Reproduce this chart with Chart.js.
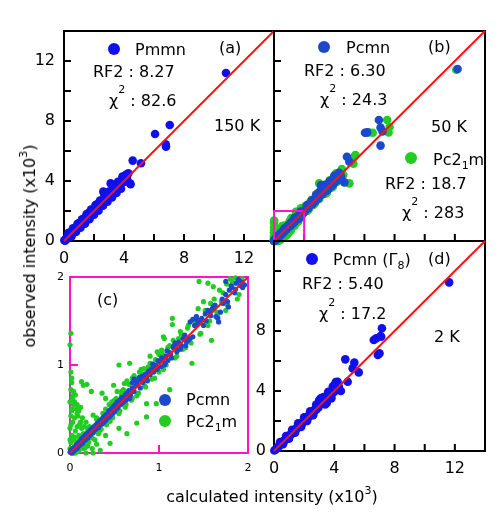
<!DOCTYPE html>
<html>
<head>
<meta charset="utf-8">
<title>Observed vs calculated intensity</title>
<script src="https://cdn.jsdelivr.net/npm/chart.js"></script>
<style>
  body { margin: 0; background: #fff; }
  #wrap { position: relative; width: 503px; height: 521px; font-family: "DejaVu Sans", sans-serif; }
  #wrap canvas { position: absolute; left: 0; top: 0; }
  .axis-title { position: absolute; font-size: 16px; line-height: 20px; color: #000; white-space: nowrap; }
  .axis-title sup { font-size: 11px; vertical-align: top; position: relative; top: -6px; }
  #xTitle { left: 272px; top: 487px; transform: translateX(-50%); }
  #yTitle { left: 30px; top: 246px; transform: translate(-50%, -50%) rotate(-90deg); }
</style>
</head>
<body>
<div id="wrap">
  <canvas id="panelA" width="503" height="521"></canvas>
  <canvas id="panelB" width="503" height="521"></canvas>
  <canvas id="panelC" width="503" height="521"></canvas>
  <canvas id="panelD" width="503" height="521"></canvas>
  <div class="axis-title" id="xTitle">calculated intensity (x10<sup>3</sup>)</div>
  <div class="axis-title" id="yTitle">observed intensity (x10<sup>3</sup>)</div>
</div>

<script>
  // axis ranges and tick labels
  const fullTickLabels = [0, 4, 8, 12];
  const panelDYLabels = [0, 4, 8];
  const zoomTickLabels = [0, 1, 2];
  const minorTicks = [2, 4, 6, 8, 10, 12];
  const zoomTicks = [1];
  const diagX = [0, 14];
  const diagY = [0, 14];
  const zoomBoxX = [0, 2, 2, 0, 0];
  const zoomBoxY = [0, 0, 2, 2, 0];

  // (a) Pmmn, 150 K  (x = calculated, y = observed, x10^3)
  const pmmnCalc = [0.02,0.08,0.15,0.22,0.3,0.38,0.45,0.52,0.6,0.68,0.75,0.82,0.9,0.98,1.05,1.12,1.2,1.28,1.35,1.42,
    1.5,1.58,1.65,1.72,1.8,1.88,1.95,2.02,2.1,2.18,2.25,2.32,2.4,2.48,2.55,2.62,2.7,2.78,2.85,2.92,
    3.0,3.08,3.11,3.15,3.22,3.3,3.38,3.45,3.52,3.6,3.68,3.75,3.82,3.9,3.96,4.05,4.12,4.2,4.29,4.4,
    4.44,4.58,5.13,6.07,6.8,6.78,7.05,10.8, 3.3,3.6,3.9,4.1,0.4,1.0,1.6,2.2,2.8,
    0.3,0.6,0.9,1.2,1.5,1.8,2.1,2.4,2.7,3.0,3.3,3.6,3.9,4.2, 0.5,0.8,1.1,1.4,1.7,2.0,2.3,2.6,2.9,3.2,3.5,3.8];
  const pmmnObs = [0.05,0.02,0.2,0.15,0.38,0.3,0.55,0.45,0.68,0.6,0.85,0.75,0.98,0.9,1.15,1.02,1.32,1.2,1.5,1.35,
    1.62,1.5,1.82,1.65,1.95,1.8,2.1,1.95,2.2,2.1,2.4,2.22,2.55,2.4,2.7,3.29,2.8,2.65,3.0,2.82,
    3.2,2.95,3.84,3.0,3.4,3.2,3.55,3.35,3.7,3.5,3.8,3.62,3.85,4.1,4.18,3.95,4.35,4.2,4.51,3.84,
    3.78,5.36,5.18,7.13,6.29,6.45,7.73,11.2, 3.6,3.9,4.3,4.4,0.55,1.2,1.85,2.45,3.05,
    0.55,0.85,1.15,1.45,1.78,2.1,2.4,2.7,3.05,3.3,3.65,3.95,4.2,4.45, 0.3,0.6,0.88,1.15,1.45,1.75,2.02,2.35,2.62,2.9,3.2,3.48];

  // (b)/(c) Pcmn, 50 K
  const pcmnCalc = [0.0,0.01,0.02,0.03,0.04,0.05,0.06,0.07,0.08,0.09,0.1,0.11,0.12,0.13,0.14,0.15,0.16,0.17,0.18,0.19,
    0.2,0.21,0.22,0.23,0.24,0.25,0.26,0.27,0.28,0.29,0.3,0.31,0.32,0.33,0.34,0.35,0.36,0.37,0.38,0.39,
    0.4,0.41,0.42,0.43,0.44,0.45,0.46,0.47,0.48,0.49,0.5,0.51,0.52,0.53,0.54,0.56,0.57,0.58,0.6,0.62,
    0.63,0.64,0.65,0.66,0.68,0.7,0.72,
    0.7,0.72,0.75,0.76,0.78,0.8,0.82,0.84,0.86,0.88,0.9,0.92,0.94,0.96,0.98,1.0,1.02,1.04,1.06,1.08,
    1.1,1.12,1.14,1.16,1.17,1.19,1.2,1.22,1.24,1.27,1.3,1.33,1.35,1.38,
    1.35,1.38,1.42,1.44,1.46,1.5,1.52,1.55,1.58,1.61,1.64,1.67,1.69,1.72,1.75,1.78,1.79,1.82,1.85,1.87,
    1.9,1.92,1.94,1.75,1.6,
    0.02,0.05,0.08,0.11,0.14,0.17,0.2,0.23,0.26,0.29,0.32,0.35,0.38,0.41,0.44,0.47,0.5,0.53,0.56,0.59,
    0.62,0.65,0.67,0.69,0.74,0.77,0.79,0.81,0.85,0.87,0.91,0.93,0.97,0.99,1.03,1.07,1.09,1.13,1.18,1.21,
    1.25,1.29,1.31,1.4,1.43,1.48,1.53,1.57,1.63,1.66,1.71,1.77,1.81,1.86,1.89,1.93,1.96,
    2.05,2.15,2.3,2.4,2.55,2.65,2.75,2.85,2.95,3.05,3.11,3.2,3.3,3.4,3.5,3.6,3.7,3.8,3.9,4.0,
    4.1,4.2,4.35,4.45,4.67,4.84,5.0,6.04,6.18,6.96,7.07,7.2,7.07,12.18,
    2.2,2.5,2.8,3.1,3.4,3.7,4.0,4.3,3.5,3.9];
  const pcmnObs = [0.01,0.03,0.0,0.05,0.02,0.07,0.04,0.09,0.06,0.11,0.08,0.13,0.1,0.16,0.12,0.18,0.14,0.2,0.16,0.22,
    0.18,0.24,0.2,0.26,0.22,0.28,0.24,0.3,0.26,0.32,0.28,0.34,0.3,0.36,0.32,0.38,0.33,0.4,0.35,0.42,
    0.37,0.44,0.4,0.47,0.41,0.49,0.43,0.51,0.45,0.53,0.47,0.55,0.5,0.58,0.52,0.6,0.55,0.63,0.58,0.66,
    0.6,0.68,0.64,0.71,0.66,0.74,0.7,
    0.8,0.84,0.82,0.78,0.86,0.83,0.8,0.88,0.85,0.93,0.89,0.96,0.92,1.0,0.95,1.04,0.98,1.06,1.0,1.1,
    1.05,1.14,1.08,1.2,1.22,1.24,1.15,1.26,1.18,1.3,1.22,1.28,1.3,1.32,
    1.49,1.52,1.55,1.47,1.5,1.45,1.58,1.62,1.56,1.66,1.55,1.49,1.6,1.7,1.8,1.66,1.85,1.88,1.82,1.93,
    1.96,1.9,1.88,1.95,1.64,
    0.0,0.03,0.05,0.09,0.11,0.15,0.17,0.21,0.23,0.27,0.29,0.33,0.35,0.39,0.42,0.45,0.49,0.51,0.55,0.57,
    0.61,0.63,0.62,0.71,0.77,0.83,0.74,0.87,0.9,0.82,0.94,1.01,0.97,1.05,1.08,1.02,1.16,1.12,1.25,1.17,
    1.22,1.34,1.26,1.45,1.51,1.53,1.5,1.6,1.68,1.53,1.75,1.72,1.9,1.86,1.97,1.94,1.91,
    2.0,2.25,2.2,2.5,2.45,2.75,2.65,3.0,2.85,3.25,3.73,3.1,3.5,3.3,3.7,3.45,3.9,3.65,4.1,3.85,
    4.25,4.05,4.5,4.3,3.91,5.62,5.29,7.22,7.24,8.07,7.56,7.3,6.36,11.47,
    2.4,2.7,3.1,3.4,3.75,4.0,4.35,4.55,3.35,3.75];

  // (b)/(c) Pc2_1m, 50 K
  const pc21mCalc = [0.0,0.01,0.02,0.0,0.03,0.01,0.02,0.0,0.03,0.01,0.02,0.01,0.0,0.01,
    0.04,0.06,0.05,0.08,0.1,0.08,0.12,0.15,0.15,0.24,0.13,0.26,0.19,0.04,
    0.05,0.1,0.15,0.2,0.26,0.3,0.34,0.45,0.4,0.55,0.64,0.75,0.86,0.97,0.86,1.12,0.69,
    0.1,0.16,0.2,0.25,0.3,0.35,0.4,0.45,0.5,0.55,0.58,0.62,0.49,0.51,0.55,0.61,0.36,0.67,0.7,0.75,
    0.8,0.85,0.9,0.94,0.95,1.0,1.05,1.03,1.05,1.1,1.15,1.15,1.2,1.25,1.3,1.37,1.4,1.45,1.46,1.5,
    1.55,1.55,1.59,1.61,1.65,1.7,1.75,1.8,1.84,1.9,
    0.0,0.01,0.02,0.03,0.05,0.07,0.09,0.11,0.13,0.02,0.04,0.06,0.08,0.1,0.12,0.14,0.16,0.18,0.2,0.22,
    0.05,0.07,0.1,0.03,0.06,0.09,0.12,0.17,0.21,0.28,0.32,0.18,0.25,
    0.3,0.33,0.37,0.41,0.44,0.48,0.52,0.56,0.6,0.63,0.66,0.7,0.73,0.77,0.81,0.84,0.88,0.92,0.96,1.0,
    1.04,1.08,1.12,1.18,1.22,1.27,1.32,1.36,1.42,1.47,1.52,1.57,1.62,1.66,1.72,1.77,1.82,1.88,1.93,
    0.4,0.47,0.53,0.58,0.64,0.72,0.78,0.83,0.9,0.98,1.06,1.16,1.24,1.33,1.44,1.58,1.68,1.76,1.86,
    2.0,1.78,2.2,2.4,2.6,2.8,3.0,3.0,3.2,3.4,3.6,3.8,4.0,4.2,4.4,4.6,5.0,5.4,5.27,5.33,
    6.29,6.55,7.51,7.6,7.67,12.1,
    2.1,2.5,2.9,3.3,3.7,4.1,4.5,2.3,2.7,3.5,3.9];
  const pc21mObs = [0.05,0.12,0.2,0.28,0.35,0.42,0.5,0.58,0.65,0.72,0.85,0.92,1.23,1.36,
    0.15,0.25,0.4,0.3,0.2,0.45,0.35,0.22,0.77,0.7,0.81,0.43,0.78,0.55,
    0.0,0.02,0.05,0.08,0.0,0.1,0.03,0.11,0.2,0.28,0.22,0.34,0.41,0.56,0.56,0.72,0.6,
    0.16,0.1,0.28,0.17,0.38,0.27,0.5,0.36,0.6,0.45,0.7,0.52,0.77,0.6,1.0,0.79,0.68,1.02,0.85,0.65,
    0.95,0.75,1.02,0.98,0.85,1.12,1.32,1.17,0.95,1.2,1.53,1.46,1.1,1.35,1.2,1.02,1.5,1.95,1.35,1.72,
    1.93,1.45,1.28,1.89,1.6,1.72,1.62,1.98,1.93,1.8,
    0.15,0.32,0.48,0.62,0.58,0.5,0.42,0.33,0.28,0.8,0.7,0.66,0.55,0.48,0.52,0.4,0.3,0.35,0.25,0.3,
    0.18,0.12,0.06,0.02,0.0,0.03,0.08,0.06,0.12,0.15,0.22,0.0,0.05,
    0.4,0.25,0.45,0.32,0.55,0.4,0.62,0.48,0.72,0.55,0.78,0.62,0.85,0.68,0.9,0.76,0.98,0.84,1.06,0.92,
    1.12,1.0,1.22,1.08,1.3,1.18,1.42,1.25,1.55,1.36,1.62,1.5,1.75,1.55,1.82,1.68,1.95,1.75,1.98,
    0.62,0.58,0.7,0.66,0.82,0.88,0.92,0.96,1.1,1.15,1.3,1.28,1.38,1.45,1.64,1.7,1.85,1.92,1.99,
    2.2,2.18,2.0,2.6,2.4,3.05,3.84,2.8,3.45,3.15,3.85,3.55,4.3,3.95,4.6,4.4,3.84,5.73,5.15,5.62,
    7.24,7.22,8.07,7.24,7.6,11.42,
    2.35,2.75,3.2,3.6,4.05,4.5,4.8,2.1,2.5,3.2,3.6];

  // (d) Pcmn (Gamma8), 2 K
  const gamma8Calc = [0.02,0.1,0.18,0.25,0.32,0.4,0.48,0.55,0.62,0.7,0.78,0.85,0.92,1.0,1.08,1.15,1.22,1.3,1.38,1.45,
    1.52,1.6,1.68,1.75,1.82,1.9,1.98,2.05,2.12,2.2,2.28,2.35,2.42,2.5,2.58,2.65,2.72,2.8,2.88,2.95,
    3.02,3.11,3.18,3.25,3.32,3.4,3.48,3.55,3.62,3.7,3.78,3.85,3.92,4.0,4.1,4.22,4.3,4.44,4.73,4.89,
    5.22,5.33,5.62,6.78,6.89,7.0,7.11,7.16,11.62, 3.0,3.3,3.6,3.9,4.1,4.0,3.5,3.8,6.62,7.07,
    0.4,0.8,1.2,1.6,2.0,2.4,2.8,3.2,3.6,0.6,1.0,1.4,1.8,2.2,2.6,3.4,3.8];
  const gamma8Obs = [0.03,0.08,0.2,0.22,0.35,0.38,0.5,0.52,0.66,0.68,0.8,0.82,0.96,0.98,1.1,1.12,1.26,1.27,1.42,1.42,
    1.56,1.57,1.72,1.72,1.88,1.86,2.02,2.0,2.18,2.15,2.34,2.3,2.48,2.45,2.64,2.6,2.8,2.75,2.95,2.9,
    3.1,3.51,3.3,3.2,3.45,3.35,3.6,3.5,3.75,3.62,3.9,3.8,4.05,3.95,4.2,4.62,4.3,4.0,6.11,4.62,
    5.51,5.89,5.24,7.51,6.4,6.51,7.62,8.18,11.24, 3.4,3.6,3.9,4.3,4.6,4.4,3.2,3.5,7.4,7.67,
    0.6,1.0,1.42,1.85,2.25,2.65,3.1,3.55,3.95,0.45,0.82,1.22,1.6,2.0,2.38,3.1,3.55];

  const FONT = '"DejaVu Sans", sans-serif';
  const blueA = '#1010ee';
  const blueB = '#1c48cc';
  const greenB = '#22cc22';
  const redLine = '#ff1111';
  const magenta = '#ff14c8';

  function toPoints(xs, ys) {
    return xs.map((x, i) => ({ x: x, y: ys[i] }));
  }

  function axis(o) {
    return {
      type: 'linear',
      min: 0,
      max: o.max,
      display: o.show,
      grid: { display: false, drawTicks: false },
      border: { display: false },
      ticks: {
        stepSize: o.step,
        includeBounds: false,
        autoSkip: false,
        maxRotation: 0,
        padding: o.pad,
        color: '#000',
        font: { family: FONT, size: o.fontSize },
        callback: v => (o.labels.includes(v) ? String(v) : '')
      },
      afterFit: s => {
        if (s.isHorizontal()) s.height = o.size; else s.width = o.size;
        s.paddingLeft = s.paddingRight = s.paddingTop = s.paddingBottom = 0;
      }
    };
  }

  function drawRich(ctx, x, y, parts) {
    let cx = x;
    parts.forEach(p => {
      ctx.font = (p.s || 16) + 'px ' + FONT;
      ctx.fillText(p.t, cx, y + (p.dy || 0));
      cx += ctx.measureText(p.t).width;
    });
  }

  // frame + inward ticks before the points, texts after
  const panelDecor = {
    id: 'panelDecor',
    beforeDatasetsDraw(chart, args, o) {
      const { ctx, chartArea: a } = chart;
      const x = chart.scales.x, y = chart.scales.y;
      ctx.save();
      ctx.strokeStyle = o.color;
      ctx.lineWidth = 2;
      ctx.strokeRect(a.left, a.top, a.right - a.left, a.bottom - a.top);
      ctx.beginPath();
      o.ticks.forEach(v => {
        const px = x.getPixelForValue(v), py = y.getPixelForValue(v);
        ctx.moveTo(px, a.bottom); ctx.lineTo(px, a.bottom - o.len);
        ctx.moveTo(a.left, py); ctx.lineTo(a.left + o.len, py);
      });
      ctx.stroke();
      ctx.restore();
    },
    afterDatasetsDraw(chart, args, o) {
      const ctx = chart.ctx;
      ctx.save();
      ctx.textBaseline = 'alphabetic';
      (o.dots || []).forEach(d => {
        ctx.fillStyle = d.color;
        ctx.beginPath();
        ctx.arc(d.x, d.y, 6, 0, Math.PI * 2);
        ctx.fill();
      });
      ctx.fillStyle = '#000';
      (o.notes || []).forEach(n => drawRich(ctx, n.x, n.y, n.parts));
      ctx.restore();
    }
  };

  const sup2 = { t: '2', s: 11, dy: -13 };

  function diagSet() {
    return { data: toPoints(diagX, diagY), showLine: true, borderColor: redLine, borderWidth: 2,
      pointRadius: 0, clip: false };
  }
  function dotSet(xs, ys, color, r) {
    return { data: toPoints(xs, ys), backgroundColor: color, borderWidth: 0, pointRadius: r,
      pointHoverRadius: r, clip: false };
  }

  function makePanel(id, datasets, padding, xAxis, yAxis, decor) {
    return new Chart(document.getElementById(id), {
      type: 'scatter',
      data: { datasets: datasets },
      options: {
        responsive: false,
        animation: false,
        events: [],
        devicePixelRatio: 1,
        layout: { padding: padding },
        scales: { x: xAxis, y: yAxis },
        plugins: { legend: { display: false }, tooltip: { enabled: false }, panelDecor: decor }
      },
      plugins: [panelDecor]
    });
  }

  // (a)
  makePanel('panelA',
    [diagSet(), dotSet(pmmnCalc, pmmnObs, blueA, 4.3)],
    { left: 0, top: 31, right: 229, bottom: 0 },
    axis({ max: 14, step: 4, labels: fullTickLabels, pad: 8, fontSize: 16, size: 280, show: true }),
    axis({ max: 14, step: 4, labels: fullTickLabels, pad: 9, fontSize: 16, size: 64, show: true }),
    {
      color: '#000', len: 7, ticks: minorTicks,
      dots: [{ x: 114, y: 49, color: blueA }],
      notes: [
        { x: 135, y: 55, parts: [{ t: 'Pmmn' }] },
        { x: 219, y: 53, parts: [{ t: '(a)' }] },
        { x: 93, y: 77, parts: [{ t: 'RF2 : 8.27' }] },
        { x: 109, y: 106, parts: [{ t: 'χ' }, sup2, { t: ' : 82.6' }] },
        { x: 214, y: 131, parts: [{ t: '150 K' }] }
      ]
    });

  // (b)
  makePanel('panelB',
    [diagSet(),
     { data: toPoints(zoomBoxX, zoomBoxY), showLine: true, borderColor: magenta, borderWidth: 2, pointRadius: 0, clip: false },
     dotSet(pcmnCalc, pcmnObs, blueB, 4.3),
     dotSet(pc21mCalc, pc21mObs, greenB, 4.3)],
    { left: 274, top: 31, right: 18, bottom: 280 },
    axis({ max: 14, step: 4, labels: [], pad: 0, fontSize: 16, size: 0, show: false }),
    axis({ max: 14, step: 4, labels: [], pad: 0, fontSize: 16, size: 0, show: false }),
    {
      color: '#000', len: 7, ticks: minorTicks,
      dots: [{ x: 324, y: 47, color: blueB }, { x: 411, y: 158, color: greenB }],
      notes: [
        { x: 346, y: 53, parts: [{ t: 'Pcmn' }] },
        { x: 428, y: 52, parts: [{ t: '(b)' }] },
        { x: 304, y: 76, parts: [{ t: 'RF2 : 6.30' }] },
        { x: 320, y: 105, parts: [{ t: 'χ' }, sup2, { t: ' : 24.3' }] },
        { x: 431, y: 132, parts: [{ t: '50 K' }] },
        { x: 433, y: 165, parts: [{ t: 'Pc2' }, { t: '1', s: 11, dy: 4 }, { t: 'm' }] },
        { x: 385, y: 189, parts: [{ t: 'RF2 : 18.7' }] },
        { x: 402, y: 218, parts: [{ t: 'χ' }, sup2, { t: ' : 283' }] }
      ]
    });

  // (c) zoom of (b) near the origin
  makePanel('panelC',
    [{ data: toPoints([0, 2], [0, 2]), showLine: true, borderColor: redLine, borderWidth: 2, pointRadius: 0 },
     dotSet(pcmnCalc, pcmnObs, blueB, 2.6),
     dotSet(pc21mCalc, pc21mObs, greenB, 2.6)],
    { left: 0, top: 277, right: 255, bottom: 0 },
    axis({ max: 2, step: 1, labels: zoomTickLabels, pad: 9, fontSize: 11, size: 68, show: true }),
    axis({ max: 2, step: 1, labels: zoomTickLabels, pad: 6, fontSize: 11, size: 70, show: true }),
    {
      color: magenta, len: 8, ticks: zoomTicks,
      dots: [{ x: 165, y: 400, color: blueB }, { x: 165, y: 421, color: greenB }],
      notes: [
        { x: 97, y: 305, parts: [{ t: '(c)' }] },
        { x: 186, y: 405, parts: [{ t: 'Pcmn' }] },
        { x: 186, y: 427, parts: [{ t: 'Pc2' }, { t: '1', s: 11, dy: 4 }, { t: 'm' }] }
      ]
    });

  // (d)
  makePanel('panelD',
    [diagSet(), dotSet(gamma8Calc, gamma8Obs, blueA, 4.3)],
    { left: 0, top: 241, right: 18, bottom: 0 },
    axis({ max: 14, step: 4, labels: fullTickLabels, pad: 8, fontSize: 16, size: 70, show: true }),
    axis({ max: 14, step: 4, labels: panelDYLabels, pad: 8, fontSize: 16, size: 274, show: true }),
    {
      color: '#000', len: 7, ticks: minorTicks,
      dots: [{ x: 312, y: 259, color: blueA }],
      notes: [
        { x: 333, y: 265, parts: [{ t: 'Pcmn (Γ' }, { t: '8', s: 11, dy: 4 }, { t: ')' }] },
        { x: 428, y: 264, parts: [{ t: '(d)' }] },
        { x: 302, y: 289, parts: [{ t: 'RF2 : 5.40' }] },
        { x: 319, y: 319, parts: [{ t: 'χ' }, sup2, { t: ' : 17.2' }] },
        { x: 434, y: 342, parts: [{ t: '2 K' }] }
      ]
    });
</script>
</body>
</html>
